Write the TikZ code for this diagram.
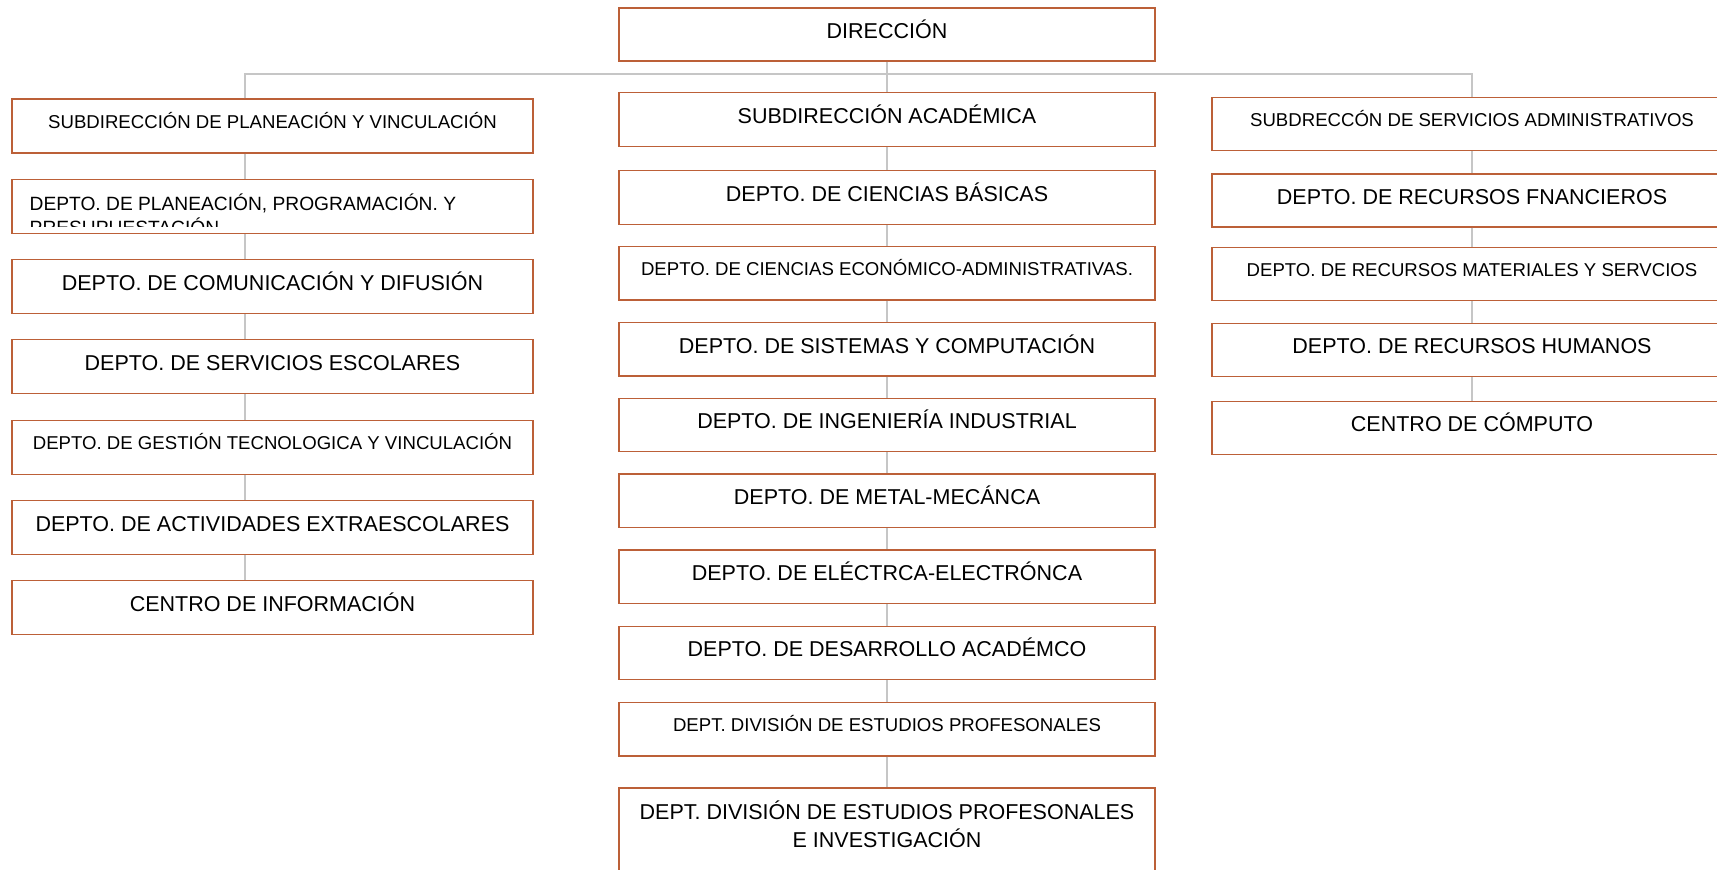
\documentclass[tikz,border=0pt]{standalone}
\usepackage{fontspec}
\setmainfont{Liberation Sans}
\usepackage{xcolor}

\definecolor{boxline}{RGB}{188,96,56}
\definecolor{linkgray}{RGB}{198,198,198}

\begin{document}
\begin{tikzpicture}[x=1pt, y=-1pt,
  box/.style={draw=boxline, line width=1.4pt, rectangle, inner sep=0pt},
  colL/.style={box, minimum width=521pt, minimum height=54pt},
  colM/.style={box, minimum width=536pt, minimum height=53.5pt},
  colR/.style={box, minimum width=520pt, minimum height=53pt},
  bigtxt/.style={font=\fontsize{21.5}{25}\selectfont, text height=15.4pt, text depth=8pt},
  smalltxt/.style={font=\fontsize{18.6}{22}\selectfont, text height=13.3pt, text depth=8pt},
  link/.style={draw=linkgray, line width=2pt}]

  % Page frame
  \useasboundingbox (0,0) rectangle (1717,870);
  \clip (0,0) rectangle (1717,870);

  % Top box
  \node[colM, minimum height=53pt, bigtxt] (dir) at (887,34.5) {DIRECCIÓN};

  % Left column
  \node[colL, smalltxt] (sp)  at (272.5,126)   {SUBDIRECCIÓN DE PLANEACIÓN Y VINCULACIÓN};
  \node[colL]           (ppp) at (272.5,206.2) {};
  \node[colL, bigtxt]   (cd)  at (272.5,286.7) {DEPTO. DE COMUNICACIÓN Y DIFUSIÓN};
  \node[colL, bigtxt]   (se)  at (272.5,366.3) {DEPTO. DE SERVICIOS ESCOLARES};
  \node[colL, smalltxt] (gt)  at (272.5,447.3) {DEPTO. DE GESTIÓN TECNOLOGICA Y VINCULACIÓN};
  \node[colL, bigtxt]   (ae)  at (272.5,527.3) {DEPTO. DE ACTIVIDADES EXTRAESCOLARES};
  \node[colL, bigtxt]   (ci)  at (272.5,607.7) {CENTRO DE INFORMACIÓN};

  % Text that runs out of its box
  \begin{scope}
    \clip (ppp.north west) rectangle ([yshift=7pt]ppp.south east);
    \node[anchor=north west, align=left, inner sep=0pt, font=\fontsize{19.2}{24}\selectfont]
      (ppptxt) at (29.5,194) {DEPTO. DE PLANEACIÓN, PROGRAMACIÓN. Y\\PRESUPUESTACIÓN};
  \end{scope}

  % Middle column
  \node[colM, bigtxt]   (sa)  at (887,119.5) {SUBDIRECCIÓN ACADÉMICA};
  \node[colM, bigtxt]   (cb)  at (887,197.5) {DEPTO. DE CIENCIAS BÁSICAS};
  \node[colM, smalltxt] (cea) at (887,273.2) {DEPTO. DE CIENCIAS ECONÓMICO-ADMINISTRATIVAS.};
  \node[colM, bigtxt]   (sc)  at (887,349.3) {DEPTO. DE SISTEMAS Y COMPUTACIÓN};
  \node[colM, bigtxt]   (ii)  at (887,425)   {DEPTO. DE INGENIERÍA INDUSTRIAL};
  \node[colM, bigtxt]   (mm)  at (887,500.8) {DEPTO. DE METAL-MECÁNCA};
  \node[colM, bigtxt]   (ee)  at (887,576.7) {DEPTO. DE ELÉCTRCA-ELECTRÓNCA};
  \node[colM, bigtxt]   (da)  at (887,653)   {DEPTO. DE DESARROLLO ACADÉMCO};
  \node[colM, smalltxt] (dep) at (887,729.2) {DEPT. DIVISIÓN DE ESTUDIOS PROFESONALES};
  \node[colM, minimum height=110pt, anchor=north] (dei) at (887,787.3) {};
  \node[anchor=north, align=center, inner sep=0pt, font=\fontsize{21.5}{28}\selectfont]
    (deitxt) at (887,801) {DEPT. DIVISIÓN DE ESTUDIOS PROFESONALES\\E INVESTIGACIÓN};

  % Right column
  \node[colR, smalltxt] (ssa) at (1472,123.7) {SUBDRECCÓN DE SERVICIOS ADMINISTRATIVOS};
  \node[colR, bigtxt]   (rf)  at (1472,200.3) {DEPTO. DE RECURSOS FNANCIEROS};
  \node[colR, smalltxt] (rm)  at (1472,274)   {DEPTO. DE RECURSOS MATERIALES Y SERVCIOS};
  \node[colR, bigtxt]   (rh)  at (1472,350)   {DEPTO. DE RECURSOS HUMANOS};
  \node[colR, bigtxt]   (cc)  at (1472,428)   {CENTRO DE CÓMPUTO};

  % Connectors
  \coordinate (lt) at (245,74);
  \coordinate (rt) at (1472,74);
  \draw[link] (sp.north -| lt) -- (lt) -- (rt) -- (ssa.north);
  \draw[link] (dir.south) -- (sa.north);
  \foreach \a/\b in {sp/ppp, ppp/cd, cd/se, se/gt, gt/ae, ae/ci}
    \draw[link] (\a.south -| lt) -- (\b.north -| lt);
  \foreach \a/\b in {sa/cb, cb/cea, cea/sc, sc/ii, ii/mm, mm/ee, ee/da, da/dep, dep/dei}
    \draw[link] (\a.south) -- (\b.north);
  \foreach \a/\b in {ssa/rf, rf/rm, rm/rh, rh/cc}
    \draw[link] (\a.south) -- (\b.north);
\end{tikzpicture}
\end{document}
